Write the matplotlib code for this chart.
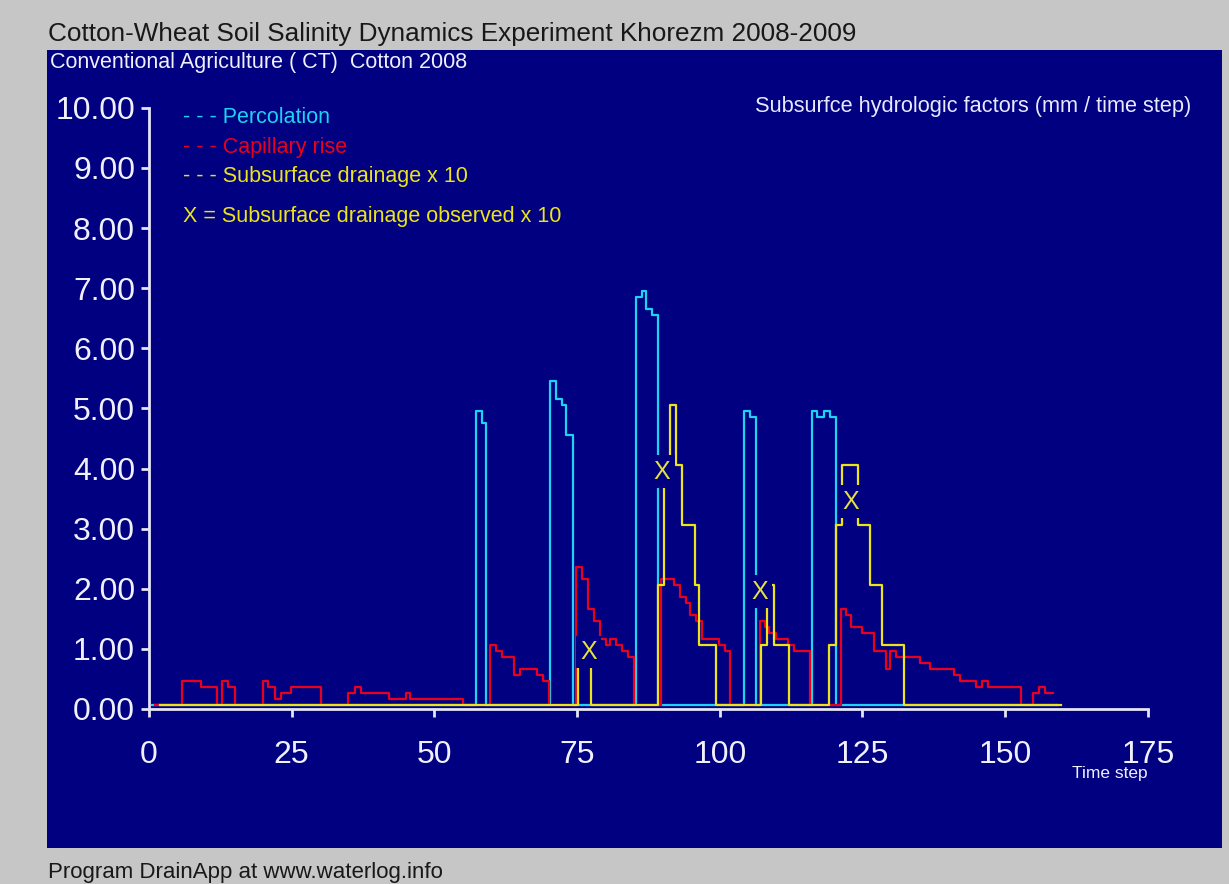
import matplotlib
matplotlib.use("Agg")
import matplotlib.pyplot as plt
from matplotlib.patches import Rectangle
from matplotlib.transforms import offset_copy

plt.rcParams['font.family'] = ['Liberation Sans', 'DejaVu Sans']

# percolation (mm / time step), step edges
perc_t = [0.5, 57.3, 58.3, 59.0, 70.2, 71.3, 72.3, 73.0, 74.2, 85.3, 86.3, 87.0, 88.1, 89.2,
          104.2, 105.3, 106.4, 116.1, 117.1, 118.2, 119.3, 120.3, 159.0]
perc_v = [0, 4.9, 4.7, 0, 5.4, 5.1, 5.0, 4.5, 0, 6.8, 6.9, 6.6, 6.5, 0,
          4.9, 4.8, 0, 4.9, 4.8, 4.9, 4.8, 0, 0]

# capillary rise
cap_t = [1.0, 5.8, 9.05, 12.0, 12.8, 13.9, 15.1, 19.9, 20.9, 22.1, 23.1, 24.9, 30.1,
         34.9, 36.1, 37.1, 42.0, 45.1, 45.7, 55.0,
         59.7, 60.8, 61.8, 64.0, 65.0, 68.0, 69.0, 70.0,
         74.8, 75.8, 76.9, 77.9, 79.0, 80.0, 80.7, 81.8, 82.8, 83.9, 84.9,
         89.7, 92.0, 93.0, 94.0, 94.7, 95.8, 96.8, 99.9, 101.0, 101.8,
         107.0, 108.0, 108.7, 109.8, 112.0, 113.0, 115.8,
         121.2, 122.1, 123.0, 125.0, 127.1, 129.1, 129.9, 130.9, 135.1, 136.8,
         141.1, 142.1, 144.9, 145.9, 147.0, 152.8, 154.9, 156.0, 157.0, 158.4]
cap_v = [0, 0.4, 0.3, 0, 0.4, 0.3, 0, 0.4, 0.3, 0.1, 0.2, 0.3, 0,
         0.2, 0.3, 0.2, 0.1, 0.2, 0.1, 0,
         1.0, 0.9, 0.8, 0.5, 0.6, 0.5, 0.4, 0,
         2.3, 2.1, 1.6, 1.4, 1.1, 1.0, 1.1, 1.0, 0.9, 0.8, 0,
         2.1, 2.0, 1.8, 1.7, 1.5, 1.4, 1.1, 1.0, 0.9, 0,
         1.4, 1.3, 1.2, 1.1, 1.0, 0.9, 0,
         1.6, 1.5, 1.3, 1.2, 0.9, 0.6, 0.9, 0.8, 0.7, 0.6,
         0.5, 0.4, 0.3, 0.4, 0.3, 0, 0.2, 0.3, 0.2, 0.2]

# subsurface drainage x 10 (simulated)
drain_t = [2.0, 75.1, 77.4, 89.2, 90.3, 91.3, 92.4, 93.4, 95.6, 96.3, 99.4,
           107.2, 108.3, 109.5, 112.2, 119.2, 120.3, 121.4, 124.3, 126.3, 128.5, 132.3, 159.8]
drain_v = [0, 1.0, 0, 2.0, 4.0, 5.0, 4.0, 3.0, 2.0, 1.0, 0,
           1.0, 2.0, 1.0, 0, 1.0, 3.0, 4.0, 3.0, 2.0, 1.0, 0, 0]

# subsurface drainage observed x 10
obs_t = [77.0, 89.9, 107.0, 123.0]
obs_v = [0.95, 3.95, 1.95, 3.45]

navy = '#000080'
cyan = '#1ed2f2'
red = '#e8001c'
yellow = '#ece418'
white = '#f0f0ff'

fig = plt.figure(figsize=(12.29, 8.84), dpi=100, facecolor='#c6c6c6')
fig.patches.append(Rectangle((0.038, 0.041), 0.956, 0.903, transform=fig.transFigure,
                             facecolor=navy, edgecolor='none', zorder=-10))

ax = fig.add_axes([0.1212, 0.198, 0.8128, 0.680])
ax.set_zorder(2)
ax.set_facecolor('none')
ax.set_xlim(0, 175)
ax.set_ylim(0, 10)
ax.set_xticks(range(0, 176, 25))
ax.set_yticks(range(0, 11))
ax.set_yticklabels([f"{v:.2f}" for v in range(0, 11)])
for s in ['top', 'right']:
    ax.spines[s].set_visible(False)
for s in ['left', 'bottom']:
    ax.spines[s].set_color('#e4e4f4')
    ax.spines[s].set_linewidth(2)
ax.tick_params(axis='both', colors='#e4e4f4', labelcolor=white, labelsize=23,
               width=2, length=6)
ax.tick_params(axis='x', pad=16)
ax.tick_params(axis='y', pad=4)

# lines sit a few pixels above the axis line like in the original
tr = offset_copy(ax.transData, fig=fig, y=2.5, units='points')
ax.step(perc_t, perc_v, where='post', color=cyan, lw=1.6, transform=tr, zorder=3, clip_on=False)
ax.step(cap_t, cap_v, where='post', color=red, lw=1.6, transform=tr, zorder=4, clip_on=False)
ax.step(drain_t, drain_v, where='post', color=yellow, lw=1.6, transform=tr, zorder=5, clip_on=False)
for t, v in zip(obs_t, obs_v):
    ax.text(t, v, 'X', color='#e4e040', fontsize=18, ha='center', va='center', zorder=6,
            bbox=dict(facecolor=navy, edgecolor='none', pad=3))

# legend as plain text lines
ax.text(0.034, 0.984, '- - - Percolation', color=cyan, fontsize=15.5, transform=ax.transAxes, va='center')
ax.text(0.034, 0.934, '- - - Capillary rise', color=red, fontsize=15.5, transform=ax.transAxes, va='center')
ax.text(0.034, 0.885, '- - - Subsurface drainage x 10', color=yellow, fontsize=15.5,
        transform=ax.transAxes, va='center')
ax.text(0.034, 0.819, 'X = Subsurface drainage observed x 10', color=yellow, fontsize=15.5,
        transform=ax.transAxes, va='center')
ax.text(1.043, 1.002, 'Subsurfce hydrologic factors (mm / time step)', color='#e8e8ff', fontsize=15.7,
        transform=ax.transAxes, va='center', ha='right')
ax.text(0.924, -0.107, 'Time step', color=white, fontsize=12.5, transform=ax.transAxes, va='center')

fig.text(0.039, 0.961, 'Cotton-Wheat Soil Salinity Dynamics Experiment Khorezm 2008-2009',
         color='#181818', fontsize=18.8, va='center')
fig.text(0.041, 0.929, 'Conventional Agriculture ( CT)  Cotton 2008', color=white, fontsize=15.5,
         va='center')
fig.text(0.039, 0.013, 'Program DrainApp at www.waterlog.info', color='#181818', fontsize=16,
         va='center')

fig.savefig('out.png', dpi=100, facecolor=fig.get_facecolor())
